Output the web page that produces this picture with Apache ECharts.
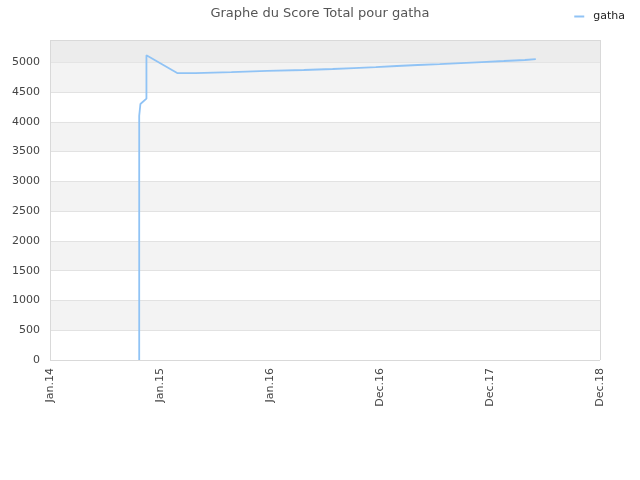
<!DOCTYPE html>
<html><head><meta charset="utf-8">
<script src="https://cdn.jsdelivr.net/npm/echarts@6/dist/echarts.min.js"></script>
<style>html,body{margin:0;padding:0;background:#fff}#c{width:640px;height:480px}</style>
</head><body><div id="c"></div>
<script>
const seriesName = 'gatha';
const dates = ['2014-10-24','2014-10-24','2014-10-24','2014-10-28','2014-11-17','2014-11-17','2015-02-27','2015-04-28','2015-04-28','2015-08-26','2015-08-26','2015-12-23','2015-12-23','2016-04-22','2016-04-22','2016-07-27','2016-07-27','2016-10-05','2016-10-05','2016-12-17','2016-12-17','2017-02-25','2017-02-25','2017-05-05','2017-05-05','2017-07-17','2017-07-17','2017-09-25','2017-09-25','2017-12-04','2017-12-04','2018-02-15','2018-02-15','2018-04-26','2018-04-26','2018-06-01'];
const scores = [0,4100,4110,4300,4390,5120,4820,4820,4837,4837,4855,4855,4871,4871,4888,4888,4904,4904,4921,4921,4938,4938,4955,4955,4971,4971,4988,4988,5005,5005,5022,5022,5039,5039,5055,5055];
const xTickLabels = ['Jan.14','Jan.15','Jan.16','Dec.16','Dec.17','Dec.18'];
const xStart = '2014-01-01';
const xStepDays = 365;
const yMax = 5375;
const yStep = 500;
const topBandFrom = 5000;

const DAY = 86400000;
const x0 = Date.parse(xStart);
const xStep = xStepDays * DAY;
const xMax = x0 + xStep * (xTickLabels.length - 1);
const data = dates.map((d, i) => [Date.parse(d), scores[i]]);

const chart = echarts.init(document.getElementById('c'));
chart.setOption({
  animation: false,
  title: { text: 'Graphe du Score Total pour gatha', left: 'center', top: 2,
    textStyle: { fontSize: 13, fontWeight: 'normal', color: '#555', fontFamily: 'DejaVu Sans' } },
  legend: { right: 10, top: 6, itemWidth: 10, itemHeight: 2, itemGap: 5,
    icon: 'rect',
    textStyle: { fontSize: 11, color: '#222', fontFamily: 'DejaVu Sans', padding: [0, 0, 0, 4] },
    data: [seriesName] },
  grid: { left: 50, right: 40, top: 40, bottom: 120, containLabel: false },
  xAxis: {
    type: 'value', min: x0, max: xMax, interval: xStep,
    axisLine: { show: false }, axisTick: { show: false },
    splitLine: { show: false },
    axisLabel: { rotate: 90, fontSize: 11, color: '#444', fontFamily: 'DejaVu Sans', margin: 8,
      formatter: v => xTickLabels[Math.round((v - x0) / xStep)] || '' }
  },
  yAxis: {
    type: 'value', min: 0, max: yMax, interval: yStep,
    axisLine: { show: false }, axisTick: { show: false },
    axisLabel: { showMaxLabel: false, fontSize: 11, color: '#444', fontFamily: 'DejaVu Sans', margin: 10,
      formatter: v => String(v) },
    splitLine: { show: true, lineStyle: { color: '#e2e2e2', width: 1 } },
    splitArea: { show: true, areaStyle: { color: ['#ffffff', '#f3f3f3'] } }
  },
  series: [{
    name: seriesName, type: 'line', data: data,
    showSymbol: false, symbol: 'none',
    lineStyle: { color: '#90c3f5', width: 1.8 },
    itemStyle: { color: '#90c3f5' },
    markArea: { silent: true, itemStyle: { color: '#ececec' },
      data: [[{ yAxis: topBandFrom }, { yAxis: yMax }]] }
  }, {
    type: 'line', data: [], silent: true,
    markLine: { silent: true, symbol: 'none', label: { show: false },
      lineStyle: { color: '#d9d9d9', type: 'solid', width: 1 },
      data: [{ yAxis: 0 }, { yAxis: yMax }, { xAxis: x0 }, { xAxis: xMax }] }
  }]
});
</script>
</body></html>
